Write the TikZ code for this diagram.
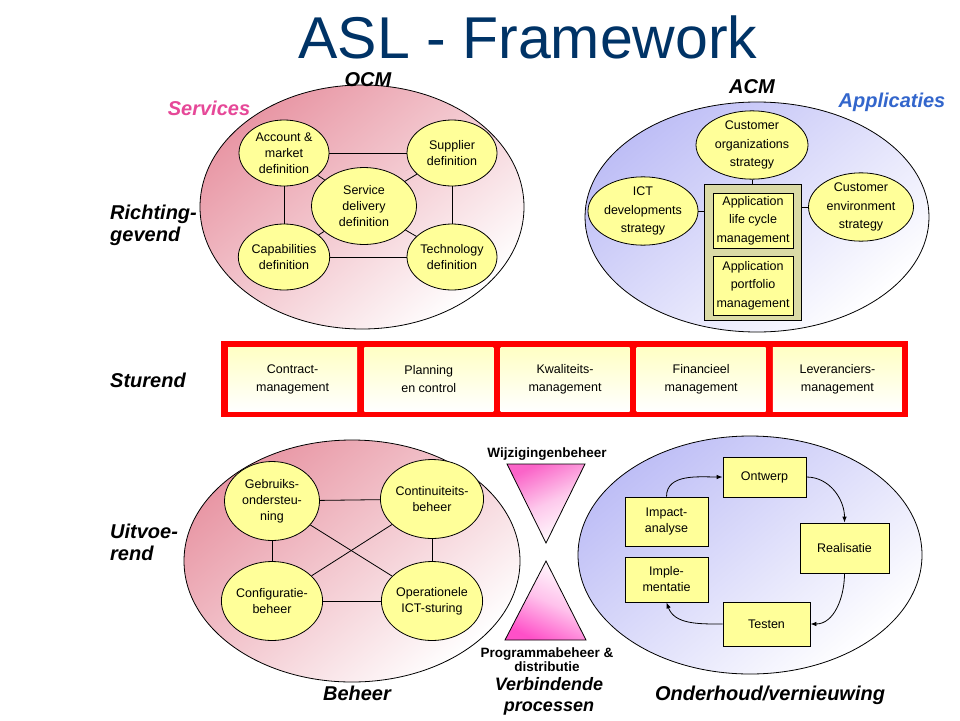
\documentclass[tikz,border=0pt]{standalone}
\usepackage{fontspec}
\setmainfont{Liberation Sans}
\usetikzlibrary{shapes.geometric,arrows.meta}
\definecolor{ylw}{RGB}{255,255,153}
\definecolor{pinkbg}{RGB}{232,150,164}
\definecolor{bluebg}{RGB}{190,190,246}
\definecolor{navy}{RGB}{0,51,102}
\definecolor{svc}{RGB}{230,72,152}
\definecolor{app}{RGB}{51,102,204}
\definecolor{khaki}{RGB}{218,218,166}
\definecolor{tripink}{RGB}{250,100,200}
\definecolor{trimag}{RGB}{255,80,200}
\definecolor{paleyel}{RGB}{255,255,196}
\begin{document}
\begin{tikzpicture}[x=1pt,y=1pt,
  txt/.style={font=\fontsize{12.5}{16}\selectfont},
  txtb/.style={font=\fontsize{12.5}{18.5}\selectfont},
  yell/.style={ellipse, draw, fill=ylw, line width=0.8pt, inner sep=0pt, align=center},
  ybox/.style={rectangle, draw, fill=ylw, line width=0.8pt, inner sep=0pt, align=center},
  lbl/.style={font=\fontsize{20}{22}\selectfont\bfseries\itshape, inner sep=0pt},
  sml/.style={font=\fontsize{13.5}{15}\selectfont\bfseries, inner sep=0pt},
  bgpink/.style={ellipse, draw, line width=0.8pt, top color=pinkbg, bottom color=white, shading angle=40, inner sep=0pt},
  bgblue/.style={ellipse, draw, line width=0.8pt, top color=bluebg, bottom color=white, shading angle=40, inner sep=0pt},
  conn/.style={line width=0.8pt},
  arr/.style={line width=0.8pt, -{Latex[length=6pt,width=4.5pt]}},
  bandbox/.style={rectangle, inner sep=0pt, top color=paleyel, bottom color=white, minimum width=129, minimum height=64, align=center, font=\fontsize{12.5}{18}\selectfont}
]
\useasboundingbox (0,0) rectangle (960,-720);
\fill[white] (0,0) rectangle (960,-720);

% Title
\node[font=\fontsize{59}{60}\selectfont, text=navy, anchor=base, inner sep=0pt] (title) at (528,-58) {ASL - Framework};

% ---------- OCM ----------
\node[bgpink, minimum width=324, minimum height=244] (ocmbg) at (362,-207) {};
\node[yell, txt, minimum width=90, minimum height=66] (acc) at (284,-153) {Account \&\\market\\definition};
\node[yell, txt, minimum width=90, minimum height=66] (sup) at (452,-153) {Supplier\\definition};
\node[yell, txt, minimum width=105, minimum height=77] (sdd) at (364,-206) {Service\\delivery\\definition};
\node[yell, txt, minimum width=90, minimum height=66] (cap) at (284,-257) {Capabilities\\definition};
\node[yell, txt, minimum width=90, minimum height=66] (tec) at (452,-257) {Technology\\definition};
\draw[conn] (acc) -- (sup);
\draw[conn] (acc) -- (cap);
\draw[conn] (sup) -- (tec);
\draw[conn] (cap) -- (tec);
\draw[conn] (acc) -- (sdd);
\draw[conn] (sup) -- (sdd);
\draw[conn] (cap) -- (sdd);
\draw[conn] (tec) -- (sdd);

\node[lbl, anchor=base] (ocm) at (368,-86) {OCM};
\node[lbl, anchor=base, text=svc] (services) at (209,-115) {Services};

% ---------- ACM ----------
\node[bgblue, minimum width=344, minimum height=230] (acmbg) at (757,-217) {};
\node[yell, txtb, minimum width=112, minimum height=62] (cust) at (752,-145) {Customer\\organizations\\strategy};
\node[yell, txtb, minimum width=104, minimum height=58] (ict) at (643,-211) {ICT\\developments\\strategy};
\node[yell, txtb, minimum width=105, minimum height=61] (env) at (861,-207) {Customer\\environment\\strategy};
\node[rectangle, draw, fill=khaki, line width=0.8pt, minimum width=97, minimum height=136, inner sep=0pt] (kbox) at (752.5,-252) {};
\node[ybox, txtb, minimum width=80, minimum height=55] (alc) at (753,-220.5) {Application\\life cycle\\management};
\node[ybox, txtb, minimum width=80, minimum height=59] (apm) at (753,-285.5) {Application\\portfolio\\management};
\draw[conn] (cust.south) -- (cust.south |- kbox.north);
\draw[conn] (ict.east) -- (ict.east -| kbox.west);
\draw[conn] (env.west) -- (env.west -| kbox.east);

\node[lbl, anchor=base] (acm) at (752,-93) {ACM};
\node[lbl, anchor=base, text=app] (applicaties) at (892,-107) {Applicaties};

% ---------- Left labels ----------
\node[lbl, anchor=base west] (rich1) at (110,-219) {Richting-};
\node[lbl, anchor=base west] (rich2) at (110,-241) {gevend};
\node[lbl, anchor=base west] (stur) at (110,-387) {Sturend};
\node[lbl, anchor=base west] (uit1) at (110,-538) {Uitvoe-};
\node[lbl, anchor=base west] (uit2) at (110,-560) {rend};

% ---------- Red band ----------
\node[fill=red, minimum width=687, minimum height=76, inner sep=0pt] (band) at (564.5,-379) {};
\node[bandbox] (b1) at (292.6,-379) {Contract-\\management};
\node[bandbox] (b2) at (428.8,-379) {Planning\\en control};
\node[bandbox] (b3) at (565.0,-379) {Kwaliteits-\\management};
\node[bandbox] (b4) at (701.2,-379) {Financieel\\management};
\node[bandbox] (b5) at (837.4,-379) {Leveranciers-\\management};

% ---------- Beheer ----------
\node[bgpink, minimum width=336, minimum height=242] (behbg) at (352,-561) {};
\node[yell, txt, minimum width=95, minimum height=79] (gebr) at (272,-501) {Gebruiks-\\ondersteu-\\ning};
\node[yell, txt, minimum width=95, minimum height=79] (cont) at (432,-499) {Continuiteits-\\beheer};
\node[yell, txt, minimum width=95, minimum height=79] (conf) at (272,-601) {Configuratie-\\beheer};
\node[yell, txt, minimum width=95, minimum height=79] (oper) at (432,-601) {Operationele\\ICT-sturing};
\draw[conn] (gebr) -- (cont);
\draw[conn] (gebr) -- (conf);
\draw[conn] (cont) -- (oper);
\draw[conn] (conf) -- (oper);
\draw[conn] (gebr) -- (oper);
\draw[conn] (cont) -- (conf);

\node[lbl, anchor=base] (beheer) at (357,-700) {Beheer};

% ---------- Verbindende processen ----------
\draw[line width=0.8pt, top color=tripink, bottom color=white, middle color=tripink!35!white, shading angle=25] (507,-464) -- (585,-464) -- (546,-543) -- cycle;
\draw[line width=0.8pt, top color=white, bottom color=trimag, middle color=trimag!35!white, shading angle=-25] (505,-640) -- (586,-640) -- (546,-561) -- cycle;
\node[sml, anchor=base] (wijz) at (547,-457) {Wijzigingenbeheer};
\node[sml, anchor=base] (prog1) at (547,-657) {Programmabeheer \&};
\node[sml, anchor=base] (prog2) at (547,-671) {distributie};
\node[font=\fontsize{18}{20}\selectfont\bfseries\itshape, inner sep=0pt, anchor=base] (verb1) at (549,-690) {Verbindende};
\node[font=\fontsize{18}{20}\selectfont\bfseries\itshape, inner sep=0pt, anchor=base] (verb2) at (549,-711) {processen};

% ---------- Onderhoud ----------
\node[bgblue, minimum width=344, minimum height=238] (ondbg) at (750,-555) {};
\node[ybox, txt, minimum width=83, minimum height=40] (ontw) at (764.5,-477) {Ontwerp};
\node[ybox, txt, minimum width=83, minimum height=49] (imp) at (666.5,-521.5) {Impact-\\analyse};
\node[ybox, txt, minimum width=89, minimum height=50] (real) at (844.5,-548) {Realisatie};
\node[ybox, txt, minimum width=83, minimum height=45] (impl) at (666.5,-579.5) {Imple-\\mentatie};
\node[ybox, txt, minimum width=87, minimum height=44] (test) at (766.5,-624) {Testen};
\draw[arr] (imp.north) to[out=90,in=180] (ontw.west);
\draw[arr] (ontw.east) to[out=0,in=90] (real.north);
\draw[arr] (real.south) to[out=-90,in=0] (test.east);
\draw[arr] (test.west) to[out=180,in=-70] (impl.south);

\node[lbl, anchor=base] (onderhoud) at (770,-700) {Onderhoud/vernieuwing};
\end{tikzpicture}
\end{document}
